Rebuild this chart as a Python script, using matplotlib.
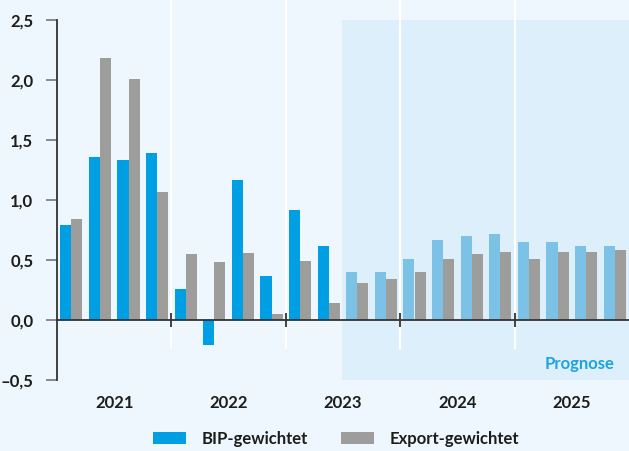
import matplotlib
matplotlib.use("Agg")
import matplotlib.pyplot as plt
import numpy as np
from matplotlib.patches import Patch
import matplotlib.transforms as mtransforms

plt.rcParams["font.family"] = ["Lato", "DejaVu Sans"]
plt.rcParams["font.weight"] = "bold"

# ---------------------------------------------------------------
# data (quarterly, 2021 Q1 - 2025 Q4)
# ---------------------------------------------------------------
years = ["2021", "2022", "2023", "2024", "2025"]
bip = [0.79, 1.36, 1.33, 1.39,
       0.26, -0.21, 1.17, 0.37,
       0.92, 0.62, 0.40, 0.40,
       0.51, 0.67, 0.70, 0.72,
       0.65, 0.65, 0.62, 0.62]
export = [0.84, 2.18, 2.01, 1.07,
          0.55, 0.48, 0.56, 0.05,
          0.49, 0.14, 0.31, 0.34,
          0.40, 0.51, 0.55, 0.57,
          0.51, 0.57, 0.57, 0.58]
first_forecast = 10          # index of first forecast quarter (2023 Q3)
yticks = [-0.5, 0.0, 0.5, 1.0, 1.5, 2.0, 2.5]

BG = "#eef6fe"
SHADE = "#dceffa"
BLUE = "#009fe3"
LIGHTBLUE = "#7cc2e6"
GREY = "#9d9d9c"
TXT = "#1d1d1b"
FS = 12

fig = plt.figure(figsize=(6.29, 4.51), dpi=100, facecolor=BG)
ax = fig.add_axes([57 / 629, 1 - 380 / 451, 572 / 629, 360 / 451])
ax.set_facecolor(BG)

n = len(bip)
x = np.arange(n) + 0.5
w = 0.385

# forecast shading
ax.axvspan(first_forecast - 0.05, n, color=SHADE, zorder=0, lw=0)

# white year separators (extend above the axes)
for b in range(4, n, 4):
    ax.axvline(b, ymin=32 / 360, ymax=380 / 360, color="white", lw=1.6,
               zorder=1, clip_on=False)

blue_cols = [BLUE if i < first_forecast else LIGHTBLUE for i in range(n)]
ax.bar(x - w / 2, bip, width=w, color=blue_cols, zorder=2, lw=0)
ax.bar(x + w / 2, export, width=w, color=GREY, zorder=2, lw=0)

ax.set_xlim(0, n)
ax.set_ylim(-0.5, 2.5)

# axes styling
for s in ["top", "right"]:
    ax.spines[s].set_visible(False)
ax.spines["left"].set_color("#333333")
ax.spines["left"].set_linewidth(1.3)
ax.spines["bottom"].set_position(("data", 0))
ax.spines["bottom"].set_color("#333333")
ax.spines["bottom"].set_linewidth(1.3)
ax.spines["bottom"].set_zorder(3)

ax.set_yticks(yticks)
ax.set_yticklabels([f"{v:.1f}".replace(".", ",").replace("-", "\u2013")
                    for v in yticks], fontsize=FS, fontweight="bold", color=TXT)
ax.tick_params(axis="y", length=8, width=1.2, color="#777777", pad=9)

ax.set_xticks(range(4, n, 4))
ax.set_xticklabels([])
ax.tick_params(axis="x", direction="inout", length=10, width=1.3, color="#333333")

trans = mtransforms.blended_transform_factory(ax.transData, ax.transAxes)
for k, yr in enumerate(years):
    ax.text(4 * k + 2, -0.064, yr, transform=trans, ha="center", va="center",
            fontsize=FS, fontweight="bold", color=TXT)

ax.text(19.51, -0.365, "Prognose", ha="right", va="center", fontsize=FS,
        fontweight="bold", color="#1fa3df", zorder=3)

handles = [Patch(color=BLUE, lw=0), Patch(color=GREY, lw=0)]
fig.legend(handles, ["BIP-gewichtet", "Export-gewichtet"], ncol=2,
           loc="center", bbox_to_anchor=(336 / 629, 1 - 439 / 451),
           frameon=False, prop={"size": FS, "weight": "bold"},
           handlelength=2.0, handleheight=0.75, handletextpad=0.9,
           columnspacing=2.0, labelcolor=TXT)

fig.savefig("out.png", dpi=100, facecolor=BG)
